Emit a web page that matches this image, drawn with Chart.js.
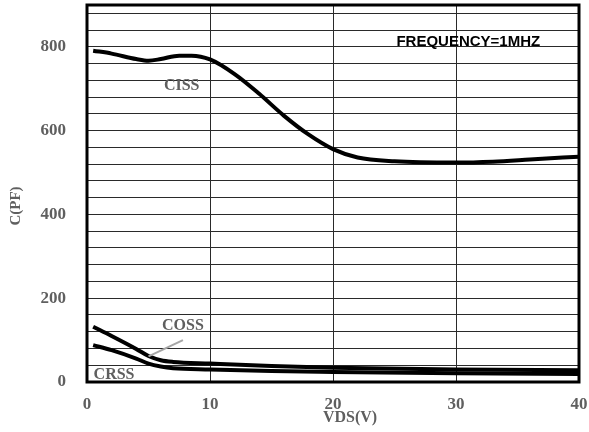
<!DOCTYPE html>
<html>
<head>
<meta charset="utf-8">
<script src="https://cdn.jsdelivr.net/npm/chart.js@4/dist/chart.umd.min.js"></script>
<style>
html,body{margin:0;padding:0;background:#fff;}
#wrap{width:589px;height:432px;position:relative;}
</style>
</head>
<body>
<div id="wrap"><canvas id="c" width="589" height="432"></canvas></div>
<script>
// ---- data ----
const vdsCiss = [0.5, 2, 4, 5, 6, 7.5, 8.5, 10, 12, 14, 16, 18, 20, 22, 25, 30, 33, 36, 40];
const ciss    = [791, 784, 771, 767, 771, 779, 779, 770, 735, 688, 636, 591, 556, 536, 527, 524, 526, 531, 538];
const vdsCoss = [0.5, 2, 4, 5, 6, 7, 10, 15, 20, 30, 40];
const coss    = [132, 110, 79, 62, 52, 48, 44, 38, 34, 30, 28];
const vdsCrss = [0.5, 2, 4, 5, 6, 7, 10, 15, 20, 30, 40];
const crss    = [88, 76, 56, 44, 37, 33, 30, 26, 24, 21, 19];
const xTicks  = [0, 10, 20, 30, 40];
const yTicks  = [0, 200, 400, 600, 800];
const seriesNames = ['CISS', 'COSS', 'CRSS'];
const xTitle = 'VDS(V)';
const yTitle = 'C(PF)';
const noteText = 'FREQUENCY=1MHZ';

const pts = (xs, ys) => xs.map((x, i) => ({x: x, y: ys[i]}));

const serif = '"Liberation Serif", "Times New Roman", serif';
const textGrey = '#5f5f5f';

const annot = {
  id: 'annot',
  afterDraw(chart) {
    const ctx = chart.ctx;
    const a = chart.chartArea;
    const xs = chart.scales.x, ys = chart.scales.y;
    ctx.save();
    // thick frame
    ctx.strokeStyle = '#000';
    ctx.lineWidth = 3;
    ctx.strokeRect(a.left, a.top, a.right - a.left, a.bottom - a.top);
    // note
    ctx.fillStyle = '#000';
    ctx.font = 'bold 15px "Liberation Sans", Arial, sans-serif';
    ctx.textAlign = 'center';
    ctx.textBaseline = 'middle';
    ctx.fillText(noteText, xs.getPixelForValue(31.0), ys.getPixelForValue(812));
    // series labels
    ctx.fillStyle = textGrey;
    ctx.font = 'bold 16px ' + serif;
    ctx.fillText(seriesNames[0], xs.getPixelForValue(7.7), ys.getPixelForValue(707));
    ctx.fillText(seriesNames[1], xs.getPixelForValue(7.8), ys.getPixelForValue(134));
    ctx.fillText(seriesNames[2], xs.getPixelForValue(2.2), ys.getPixelForValue(18));
    // pointer line
    ctx.strokeStyle = '#a6a6a6';
    ctx.lineWidth = 2;
    ctx.beginPath();
    ctx.moveTo(xs.getPixelForValue(7.8), ys.getPixelForValue(100));
    ctx.lineTo(xs.getPixelForValue(5.0), ys.getPixelForValue(61));
    ctx.stroke();
    // axis titles
    ctx.fillStyle = textGrey;
    ctx.font = 'bold 16px ' + serif;
    ctx.fillText(xTitle, 350, 418);
    ctx.translate(16, 206);
    ctx.rotate(-Math.PI / 2);
    ctx.font = 'bold 15px ' + serif;
    ctx.fillText(yTitle, 0, 0);
    ctx.restore();
  }
};

const lineStyle = {borderColor: '#000', borderWidth: 4, pointRadius: 0, fill: false, cubicInterpolationMode: 'monotone', showLine: true};

new Chart(document.getElementById('c'), {
  type: 'scatter',
  data: {
    datasets: [
      Object.assign({label: seriesNames[0], data: pts(vdsCiss, ciss)}, lineStyle),
      Object.assign({label: seriesNames[1], data: pts(vdsCoss, coss)}, lineStyle),
      Object.assign({label: seriesNames[2], data: pts(vdsCrss, crss)}, lineStyle)
    ]
  },
  options: {
    responsive: false,
    animation: false,
    devicePixelRatio: 1,
    layout: {padding: {left: 0, top: 5, right: 10, bottom: 0}},
    plugins: {legend: {display: false}, tooltip: {enabled: false}},
    scales: {
      x: {
        type: 'linear', min: 0, max: 40,
        afterFit(s) { s.height = 50; s.paddingLeft = 0; s.paddingRight = 0; },
        afterBuildTicks(s) { s.ticks = xTicks.map(v => ({value: v})); },
        grid: {color: '#2a2a2a', lineWidth: 1, drawTicks: false},
        border: {display: false},
        ticks: {padding: 12, autoSkip: false, color: textGrey, font: {family: serif, size: 17, weight: 'bold'}, maxRotation: 0}
      },
      y: {
        type: 'linear', min: 0, max: 900,
        afterFit(s) { s.width = 87; s.paddingTop = 0; s.paddingBottom = 0; },
        afterBuildTicks(s) {
          const t = [];
          for (let v = 0; v <= 880; v += 40) t.push({value: v});
          s.ticks = t;
        },
        grid: {color: '#2a2a2a', lineWidth: 1, drawTicks: false},
        border: {display: false},
        ticks: {
          padding: 21, autoSkip: false, color: textGrey, font: {family: serif, size: 17, weight: 'bold'},
          callback: v => (yTicks.indexOf(v) >= 0 ? String(v) : '')
        }
      }
    }
  },
  plugins: [annot]
});
</script>
</body>
</html>
